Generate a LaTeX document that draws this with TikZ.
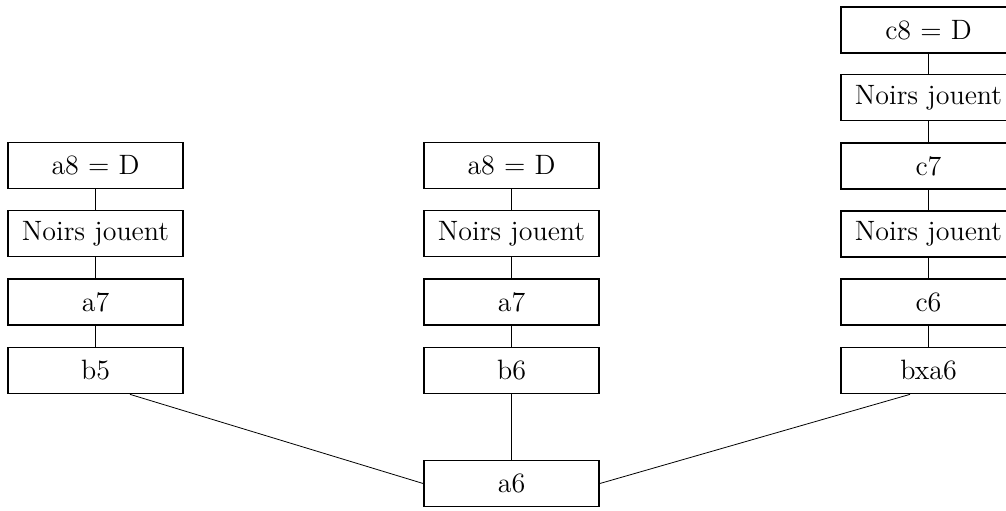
\documentclass[tikz,border=0pt]{standalone}
\usetikzlibrary{calc}
\tikzset{
  coup/.style={draw,line width=0.85pt,minimum width=87.5pt,minimum height=23pt,
    inner sep=0pt,font=\fontsize{14}{17}\selectfont},
  lien/.style={line width=0.85pt},
  fin/.style={line width=0.4pt}
}
\begin{document}
\begin{tikzpicture}[x=0.5pt,y=-0.5pt]
    \useasboundingbox (0,0) rectangle (1006,510);
    % colonne de gauche
    \node[coup] (g1) at (95.5,165.5) {a8 = D};
    \node[coup] (g2) at (95.5,233.5) {Noirs jouent};
    \node[coup] (g3) at (95.5,302) {a7};
    \node[coup] (g4) at (95.5,370.5) {b5};
    % colonne du milieu
    \node[coup] (m1) at (511.5,165.5) {a8 = D};
    \node[coup] (m2) at (511.5,233.5) {Noirs jouent};
    \node[coup] (m3) at (511.5,302) {a7};
    \node[coup] (m4) at (511.5,370.5) {b6};
    % colonne de droite
    \node[coup] (d1) at (928.5,30) {c8 = D};
    \node[coup] (d2) at (928.5,97.5) {Noirs jouent};
    \node[coup] (d3) at (928.5,166) {c7};
    \node[coup] (d4) at (928.5,234) {Noirs jouent};
    \node[coup] (d5) at (928.5,302) {c6};
    \node[coup] (d6) at (928.5,370.5) {bxa6};
    % racine
    \node[coup] (a6) at (511.5,483.5) {a6};
    \draw[lien] (g1) -- (g2) (g2) -- (g3) (g3) -- (g4);
    \draw[lien] (m1) -- (m2) (m2) -- (m3) (m3) -- (m4) (m4) -- (a6);
    \draw[lien] (d1) -- (d2) (d2) -- (d3) (d3) -- (d4) (d4) -- (d5) (d5) -- (d6);
    \coordinate (gb) at ($(g4.south)+(34.5,0)$);
    \coordinate (db) at ($(d6.south)+(-18.5,0)$);
    \draw[fin] (gb) -- (a6.west);
    \draw[fin] (db) -- (a6.east);
\end{tikzpicture}
\end{document}
